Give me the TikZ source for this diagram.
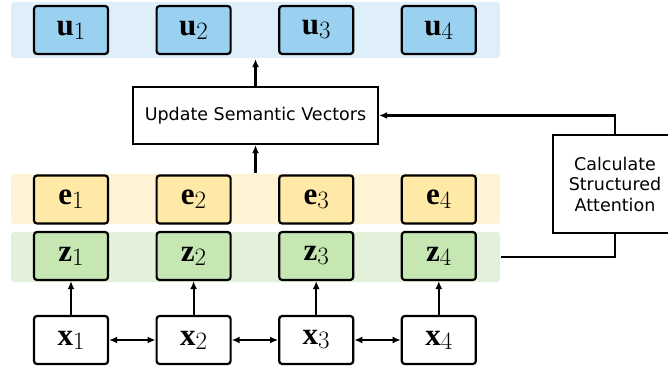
\documentclass[tikz,border=0pt]{standalone}
\usepackage{fontspec}
\setsansfont{DejaVu Sans}
\newfontfamily\vecfont{Liberation Serif}
\usetikzlibrary{positioning,arrows.meta}

\definecolor{uboxc}{RGB}{154,209,240}
\definecolor{ubandc}{RGB}{223,239,250}
\definecolor{eboxc}{RGB}{255,233,166}
\definecolor{ebandc}{RGB}{255,243,214}
\definecolor{zboxc}{RGB}{198,230,178}
\definecolor{zbandc}{RGB}{227,241,218}

% bold vector letter with its index
\newcommand{\vecname}[2]{\textbf{#1}\raisebox{-4pt}{\rmfamily\fontsize{25}{25}\selectfont #2}}

\tikzset{
  vecbox/.style={draw,rounded corners=3,line width=2.2,minimum width=74,minimum height=48,
    inner sep=0,font=\vecfont\fontsize{31}{33}\selectfont},
  band/.style={rounded corners=3,minimum width=489,minimum height=50,inner sep=0},
  procbox/.style={draw,line width=2.2,fill=white,inner sep=0,
    font=\sffamily\fontsize{17.5}{20.5}\selectfont}
}

\begin{document}
\begin{tikzpicture}[x=1pt,y=-1pt,>={Latex[length=8pt,width=7pt]},line width=2.2]
  \useasboundingbox (0,0) rectangle (668,371);

  % colour bands behind the rows
  \node (uband) at (255.5,30) [band,fill=ubandc,minimum height=56]{};
  \node (eband) at (255.5,199) [band,fill=ebandc]{};
  \node (zband) at (255.5,257) [band,fill=zbandc]{};

  \foreach \i/\xx in {1/71,2/193.6,3/316.2,4/438.8}{
    \node (u\i) at (\xx,30) [vecbox,fill=uboxc]{\vecname{u}{\i}};
    \node (e\i) at (\xx,199.5) [vecbox,fill=eboxc]{\vecname{e}{\i}};
    \node (z\i) at (\xx,256) [vecbox,fill=zboxc]{\vecname{z}{\i}};
    \node (x\i) at (\xx,340) [vecbox,fill=white]{\vecname{x}{\i}};
    \draw[->] (x\i) -- (z\i);
  }
  \foreach \a/\b in {1/2,2/3,3/4}
    \draw[<->] (x\a) -- (x\b);

  \node (update) at (255.5,115.5) [procbox,minimum width=245,minimum height=57]{Update Semantic Vectors};
  \node (attn) at (615,184) [procbox,minimum width=124,minimum height=98,align=center]{Calculate\\Structured\\Attention};

  \draw[->] (eband.north) -- (update.south);
  \draw[->] (update.north) -- (uband.south);
  \draw[->] (attn.north) |- (update.east);
  \draw (zband.east) -| (attn.south);

\end{tikzpicture}
\end{document}
